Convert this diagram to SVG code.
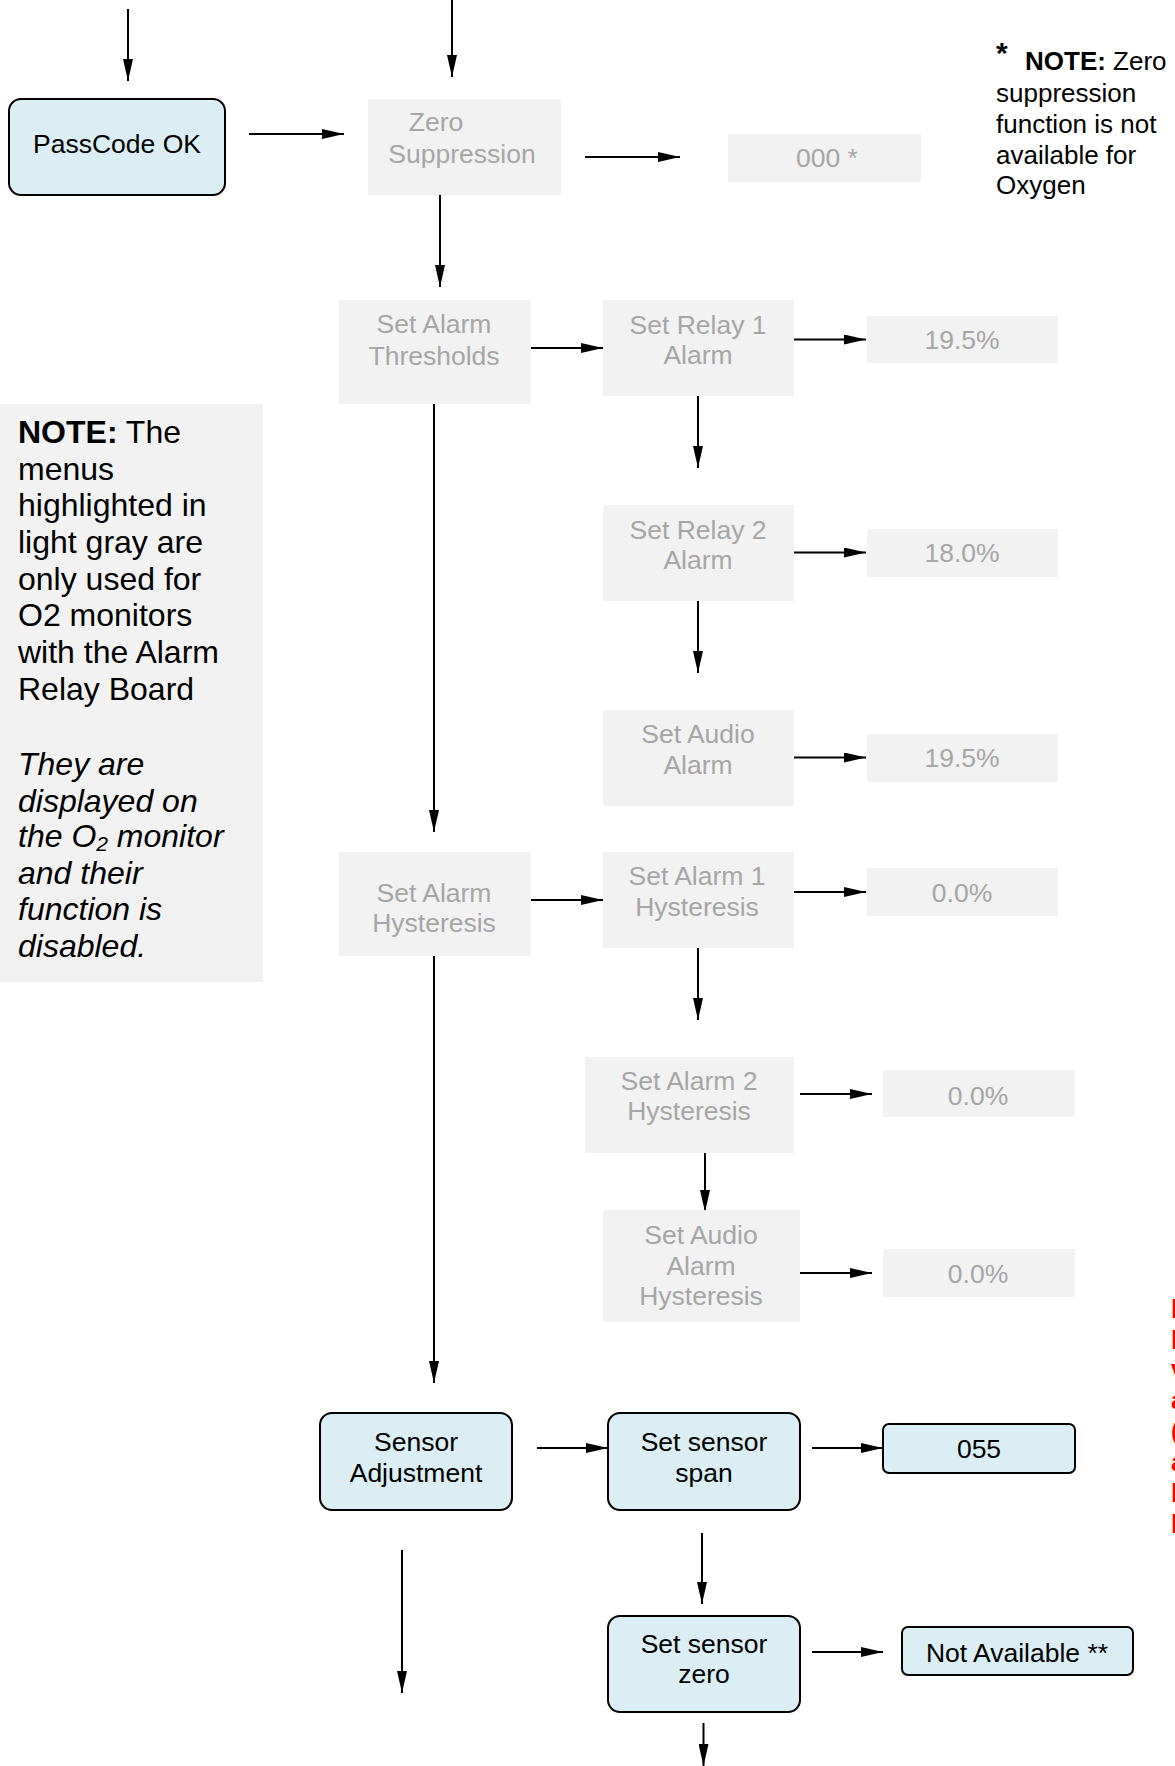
<svg xmlns="http://www.w3.org/2000/svg" width="1175" height="1766" viewBox="0 0 1175 1766">
<style>
text{font-family:"Liberation Sans",Arial,sans-serif}
.blue{fill:#daeef3;stroke:#000;stroke-width:2}
.gray{fill:#f2f2f2}
.t{font-size:26.5px;fill:#000;text-anchor:middle}
.g{font-size:26.5px;fill:#a6a6a6;text-anchor:middle}
.n{font-size:32px;fill:#000}
.r{font-size:26px;fill:#000}
.red{font-size:26px;fill:#ff0000;font-weight:bold}
.c{stroke:#000;stroke-width:2;fill:none;marker-end:url(#ah)}
</style>
<defs>
<marker id="ah" viewBox="0 0 22 10" markerWidth="22" markerHeight="10" refX="22" refY="5" orient="auto" markerUnits="userSpaceOnUse">
<path d="M0,0 L22,5 L0,10 z" fill="#000"/>
</marker>
</defs>
<rect width="1175" height="1766" fill="#fff"/>

<g id="connectors">
<line class="c" x1="128" y1="9" x2="128" y2="81"/>
<line class="c" x1="452" y1="0" x2="452" y2="77"/>
<line class="c" x1="249" y1="134" x2="344" y2="134"/>
<line class="c" x1="585" y1="157" x2="680" y2="157"/>
<line class="c" x1="440" y1="193" x2="440" y2="287"/>
<line class="c" x1="531" y1="348" x2="603" y2="348"/>
<line class="c" x1="794" y1="339.5" x2="866" y2="339.5"/>
<line class="c" x1="698" y1="396" x2="698" y2="468"/>
<line class="c" x1="794" y1="552.5" x2="866" y2="552.5"/>
<line class="c" x1="698" y1="601" x2="698" y2="673"/>
<line class="c" x1="794" y1="757.5" x2="866" y2="757.5"/>
<line class="c" x1="434" y1="402" x2="434" y2="832"/>
<line class="c" x1="531" y1="900" x2="603" y2="900"/>
<line class="c" x1="794" y1="892" x2="866" y2="892"/>
<line class="c" x1="698" y1="948" x2="698" y2="1020"/>
<line class="c" x1="800" y1="1094" x2="872" y2="1094"/>
<line class="c" x1="705" y1="1141" x2="705" y2="1212"/>
<line class="c" x1="800" y1="1273" x2="872" y2="1273"/>
<line class="c" x1="434" y1="953" x2="434" y2="1383"/>
<line class="c" x1="537" y1="1448" x2="608" y2="1448"/>
<line class="c" x1="812" y1="1448" x2="883" y2="1448"/>
<line class="c" x1="702" y1="1533" x2="702" y2="1604"/>
<line class="c" x1="812" y1="1652" x2="883" y2="1652"/>
<line class="c" x1="402" y1="1550" x2="402" y2="1693"/>
<line class="c" x1="703.5" y1="1723" x2="703.5" y2="1766"/>
</g>

<g id="passcode">
<rect class="blue" x="9" y="99" width="216" height="96" rx="12"/>
<text class="t" x="117" y="153">PassCode OK</text>
</g>

<g id="zero-suppression">
<rect class="gray" x="368" y="99" width="193" height="96"/>
<text class="g" x="436" y="131">Zero</text>
<text class="g" x="462" y="163">Suppression</text>
</g>

<g id="zero-value">
<rect class="gray" x="728" y="134" width="193" height="48"/>
<text class="g" x="827" y="167">000 *</text>
</g>

<g id="zero-note">
<text x="996" y="63" style="font-size:30px;font-weight:bold;fill:#000">*</text>
<text class="r" x="1025" y="70"><tspan font-weight="bold">NOTE:</tspan> Zero</text>
<text class="r" x="996" y="102">suppression</text>
<text class="r" x="996" y="133">function is not</text>
<text class="r" x="996" y="164">available for</text>
<text class="r" x="996" y="194">Oxygen</text>
</g>

<g id="gray-note">
<rect class="gray" x="0" y="404" width="263" height="578"/>
<text class="n" x="18" y="443"><tspan font-weight="bold">NOTE:</tspan> The</text>
<text class="n" x="18" y="480">menus</text>
<text class="n" x="18" y="516">highlighted in</text>
<text class="n" x="18" y="553">light gray are</text>
<text class="n" x="18" y="590">only used for</text>
<text class="n" x="18" y="626">O2 monitors</text>
<text class="n" x="18" y="663">with the Alarm</text>
<text class="n" x="18" y="700">Relay Board</text>
<text class="n" x="18" y="775" font-style="italic">They are</text>
<text class="n" x="18" y="812" font-style="italic">displayed on</text>
<text class="n" x="18" y="847" font-style="italic">the O<tspan font-size="21" dy="4">2</tspan><tspan dy="-4"> monitor</tspan></text>
<text class="n" x="18" y="884" font-style="italic">and their</text>
<text class="n" x="18" y="920" font-style="italic">function is</text>
<text class="n" x="18" y="957" font-style="italic">disabled.</text>
</g>

<g id="set-alarm-thresholds">
<rect class="gray" x="339" y="300" width="192" height="104"/>
<text class="g" x="434" y="333">Set Alarm</text>
<text class="g" x="434" y="365">Thresholds</text>
</g>

<g id="set-relay-1">
<rect class="gray" x="603" y="300" width="191" height="96"/>
<text class="g" x="698" y="334">Set Relay 1</text>
<text class="g" x="698" y="364">Alarm</text>
</g>
<g id="relay1-value">
<rect class="gray" x="867" y="316" width="191" height="47"/>
<text class="g" x="962" y="349">19.5%</text>
</g>

<g id="set-relay-2">
<rect class="gray" x="603" y="505" width="191" height="96"/>
<text class="g" x="698" y="539">Set Relay 2</text>
<text class="g" x="698" y="569">Alarm</text>
</g>
<g id="relay2-value">
<rect class="gray" x="867" y="529" width="191" height="48"/>
<text class="g" x="962" y="562">18.0%</text>
</g>

<g id="set-audio-alarm">
<rect class="gray" x="603" y="710" width="191" height="96"/>
<text class="g" x="698" y="743">Set Audio</text>
<text class="g" x="698" y="774">Alarm</text>
</g>
<g id="audio-value">
<rect class="gray" x="867" y="734" width="191" height="48"/>
<text class="g" x="962" y="767">19.5%</text>
</g>

<g id="set-alarm-hysteresis">
<rect class="gray" x="339" y="852" width="192" height="104"/>
<text class="g" x="434" y="902">Set Alarm</text>
<text class="g" x="434" y="932">Hysteresis</text>
</g>

<g id="alarm1-hysteresis">
<rect class="gray" x="603" y="852" width="191" height="96"/>
<text class="g" x="697" y="885">Set Alarm 1</text>
<text class="g" x="697" y="916">Hysteresis</text>
</g>
<g id="alarm1-hyst-value">
<rect class="gray" x="867" y="868" width="191" height="48"/>
<text class="g" x="962" y="902">0.0%</text>
</g>

<g id="alarm2-hysteresis">
<rect class="gray" x="585" y="1057" width="209" height="96"/>
<text class="g" x="689" y="1090">Set Alarm 2</text>
<text class="g" x="689" y="1120">Hysteresis</text>
</g>
<g id="alarm2-hyst-value">
<rect class="gray" x="883" y="1070" width="192" height="47"/>
<text class="g" x="978" y="1105">0.0%</text>
</g>

<g id="audio-hysteresis">
<rect class="gray" x="603" y="1210" width="197" height="112"/>
<text class="g" x="701" y="1244">Set Audio</text>
<text class="g" x="701" y="1275">Alarm</text>
<text class="g" x="701" y="1305">Hysteresis</text>
</g>
<g id="audio-hyst-value">
<rect class="gray" x="883" y="1249" width="192" height="48"/>
<text class="g" x="978" y="1283">0.0%</text>
</g>

<g id="sensor-adjustment">
<rect class="blue" x="320" y="1413" width="192" height="97" rx="12"/>
<text class="t" x="416" y="1451">Sensor</text>
<text class="t" x="416" y="1482">Adjustment</text>
</g>

<g id="set-sensor-span">
<rect class="blue" x="608" y="1413" width="192" height="97" rx="12"/>
<text class="t" x="704" y="1451">Set sensor</text>
<text class="t" x="704" y="1482">span</text>
</g>
<g id="span-value">
<rect class="blue" x="883" y="1424" width="192" height="49" rx="6"/>
<text class="t" x="979" y="1458">055</text>
</g>

<g id="set-sensor-zero">
<rect class="blue" x="608" y="1616" width="192" height="96" rx="12"/>
<text class="t" x="704" y="1653">Set sensor</text>
<text class="t" x="704" y="1683">zero</text>
</g>
<g id="zero-sensor-value">
<rect class="blue" x="902" y="1627" width="231" height="48" rx="6"/>
<text class="t" x="1017" y="1662">Not Available **</text>
</g>

<g id="red-note">
<text class="red" x="1171" y="1318">l</text>
<text class="red" x="1171" y="1349">l</text>
<text class="red" x="1171" y="1378">v</text>
<text class="red" x="1171" y="1409">a</text>
<text class="red" x="1171" y="1440">(</text>
<text class="red" x="1171" y="1471">a</text>
<text class="red" x="1171" y="1502">l</text>
<text class="red" x="1171" y="1533">l</text>
</g>
</svg>
